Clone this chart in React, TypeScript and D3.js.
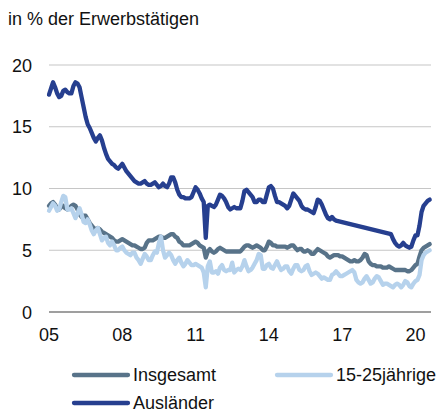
import React from "react";
import * as d3 from "d3";

// monthly values, Jan 2005 .. Aug 2020 (in % der Erwerbstätigen)
const startYear = 2005;
const yearTicks = [2005, 2008, 2011, 2014, 2017, 2020];
const yTicks = [0, 5, 10, 15, 20];

const insgesamt = [
  8.6, 8.8, 8.9, 8.7, 8.4, 8.3, 8.5, 8.6, 8.4, 8.3, 8.4, 8.6,
  8.7, 8.6, 8.3, 7.9, 7.7, 7.8, 7.8, 7.5, 7.2, 7.0, 6.8, 6.7,
  6.8, 6.7, 6.5, 6.4, 6.3, 6.2, 6.1, 6.0, 5.8, 5.7, 5.7, 5.8,
  5.9, 5.8, 5.7, 5.6, 5.5, 5.4, 5.4, 5.3, 5.2, 5.1, 5.1, 5.2,
  5.6, 5.8, 5.8, 5.8, 5.9, 6.0, 6.1, 6.1, 6.0, 6.0, 6.1, 6.2,
  6.3, 6.3, 6.1, 6.0, 5.7, 5.6, 5.4, 5.4, 5.4, 5.4, 5.5, 5.6,
  5.7, 5.6, 5.4, 5.3, 5.2, 4.4, 4.9, 5.1, 4.9, 4.8, 4.9, 5.1,
  5.2, 5.1, 5.0, 4.9, 4.9, 4.9, 4.9, 4.9, 4.9, 4.9, 4.9, 5.1,
  5.3, 5.4, 5.4, 5.3, 5.2, 5.3, 5.4, 5.3, 5.2, 5.0, 5.0, 5.3,
  5.7, 5.6, 5.4, 5.4, 5.3, 5.3, 5.3, 5.3, 5.3, 5.2, 5.3, 5.4,
  5.4, 5.2, 5.0, 5.1, 5.1, 4.9, 4.9, 5.0, 4.9, 4.7, 4.7, 4.9,
  5.1, 5.0, 4.9, 4.8, 4.7, 4.5, 4.4, 4.5, 4.6, 4.6, 4.6, 4.5,
  4.5, 4.4, 4.3, 4.2, 4.1, 4.1, 4.2, 4.1, 4.1, 4.2, 4.4, 4.7,
  4.6, 4.1, 3.9, 3.8, 3.8, 3.7, 3.7, 3.7, 3.6, 3.6, 3.6, 3.7,
  3.6, 3.5, 3.4, 3.4, 3.4, 3.4, 3.4, 3.4, 3.3, 3.3, 3.4, 3.6,
  3.8, 3.9, 4.5, 5.0, 5.2, 5.3, 5.4, 5.5,
];

const jugend = [
  8.2, 8.5, 8.8, 8.6, 8.2, 8.3, 8.9, 9.4, 9.3, 8.3, 8.3, 8.4,
  8.0, 7.6, 8.0, 8.4, 7.9, 7.3, 7.2, 7.5, 7.1, 6.6, 6.3, 6.6,
  6.8, 6.3, 5.8, 6.0, 6.1, 5.6, 5.4, 5.7, 5.4, 5.0, 5.0, 5.2,
  5.3, 5.0, 4.8, 4.7, 4.6, 4.8, 4.8, 4.4, 4.2, 3.9, 4.3, 4.7,
  4.5, 4.2, 4.2, 4.6, 4.9, 4.8, 5.6, 6.1, 5.0, 4.4, 4.6, 4.8,
  4.6, 4.2, 3.9, 4.2, 4.4, 4.0, 3.7, 3.9, 4.2, 4.0, 3.8, 3.8,
  3.9, 3.8, 3.7, 3.6, 3.2, 2.0, 3.7, 4.1, 3.2, 3.2, 3.3, 3.1,
  3.6, 3.8, 3.4, 3.3, 3.4, 3.4, 4.0, 3.2, 3.4, 3.5, 3.4, 3.7,
  4.2, 3.7, 3.3, 3.4, 3.6, 3.9, 4.2, 4.7, 4.6, 3.5, 3.5, 3.8,
  3.9, 3.6, 3.5, 3.8, 4.1, 3.7, 3.4, 3.5, 3.7, 3.7, 3.3, 3.1,
  3.5, 3.8, 3.8, 3.4, 3.3, 3.4, 3.7, 3.8, 3.3, 3.0, 3.1, 3.2,
  3.1, 2.9, 2.7, 2.8, 2.7, 2.6, 2.6, 3.0, 3.1, 3.3, 3.1, 2.9,
  2.9, 3.0, 3.1, 3.2, 3.3, 3.4, 3.2, 2.6, 2.4, 2.3, 2.4, 2.7,
  2.9, 2.6, 2.3, 2.4, 2.7, 2.9, 2.8, 2.5, 2.2, 2.3, 2.3, 2.2,
  2.1, 2.0, 2.2, 2.3, 2.2, 2.0, 2.2, 2.5, 2.4, 2.1, 2.0, 2.3,
  2.5, 2.6, 3.0, 4.2, 4.6, 4.8, 4.9, 5.0,
];

// null = no value for that month
const auslaender: (number | null)[] = [
  17.6, 18.1, 18.6, 18.2, 17.7, 17.4, 17.5, 17.9, 18.0, 17.8, 17.7, 17.7,
  18.3, 18.6, 18.5, 18.2, 17.4, 16.6, 15.8, 15.2, 14.9, 14.5, 14.1, 13.8,
  14.1, 14.3, 13.9, 13.3, 12.8, 12.4, 12.2, 12.0, 11.9, 11.7, 11.6, 11.8,
  12.0, 11.7, 11.4, 11.2, 11.0, 10.8, 10.6, 10.5, 10.4, 10.4, 10.5, 10.6,
  10.4, 10.3, 10.3, 10.4, 10.5, 10.3, 10.1, 10.2, 10.4, 10.2, 10.1, 10.4,
  10.9, 10.9, 10.5, 9.9, 9.5, 9.3, 9.3, 9.2, 9.2, 9.2, 9.3, 9.7,
  10.1, 9.9, 9.6, 9.2, 8.9, 6.0, 8.6, 8.7, 8.6, 8.5, 8.7, 9.1,
  9.5, 9.4, 9.2, 8.9, 8.5, 8.3, 8.4, 8.5, 8.4, 8.4, 8.4, 9.0,
  9.8, 9.9, 9.7, 9.5, 9.3, 8.9, 8.9, 9.1, 9.1, 8.9, 8.9, 9.5,
  10.1, 10.2, 10.0, 9.4, 8.9, 8.9, 8.8, 8.7, 8.6, 8.4, 8.6, 9.1,
  9.6, 9.4, 9.2, 9.0, 8.6, 8.4, 8.3, 8.3, 8.2, 8.1, 8.0, 8.5,
  9.1, 9.0, 8.7, 8.3, 7.9, 7.6, 7.5, 7.7, 7.5, 7.4, null, null,
  null, null, null, null, null, null, null, null, null, null, null, null,
  null, null, null, null, null, null, null, null, null, null, null, null,
  6.3, 5.9, 5.6, 5.4, 5.3, 5.4, 5.6, 5.4, 5.3, 5.2, 5.3, 5.8,
  6.2, 6.2, 7.0, 8.1, 8.6, 8.8, 9.0, 9.1,
];

const series = [
  { name: "Insgesamt", values: insgesamt, color: "#587389" },
  { name: "15-25jährige", values: jugend, color: "#b6d2ec" },
  { name: "Ausländer", values: auslaender, color: "#263f8f" },
];

const font = "Arial, 'Liberation Sans', sans-serif";

export default function App() {
  const width = 440;
  const height = 412;
  const margin = { left: 49, right: 9, top: 65, bottom: 100 };

  const n = insgesamt.length;
  const x = d3.scaleLinear().domain([0, n - 1]).range([margin.left, 429.7]);
  const y = d3.scaleLinear().domain([0, 20]).range([height - margin.bottom, margin.top]);

  const line = d3
    .line<[number, number]>()
    .x((d) => x(d[0]))
    .y((d) => y(d[1]));

  const pts = (vals: (number | null)[]) =>
    vals
      .map((v, i) => [i, v] as [number, number | null])
      .filter((d) => d[1] != null) as [number, number][];

  const gridRight = 431;

  return (
    <svg
      width={width}
      height={height}
      style={{ position: "absolute", left: 0, top: 0, background: "#fff" }}
      fontFamily={font}
    >
      <text x={8} y={25} fontSize={18} fill="#111">
        in % der Erwerbstätigen
      </text>

      {yTicks.map((t) => (
        <g key={t}>
          <line
            x1={margin.left}
            x2={gridRight}
            y1={y(t)}
            y2={y(t)}
            stroke={t === 0 ? "#7f7f7f" : "#c6c6c6"}
            strokeWidth={t === 0 ? 1.3 : 1.2}
          />
          <text x={32} y={y(t) + 6.5} fontSize={18} textAnchor="end" fill="#111">
            {t}
          </text>
        </g>
      ))}

      {yearTicks.map((yr) => (
        <text
          key={yr}
          x={x((yr - startYear) * 12)}
          y={341}
          fontSize={18}
          textAnchor="middle"
          fill="#111"
        >
          {String(yr).slice(2)}
        </text>
      ))}

      {series.map((s) => (
        <path
          key={s.name}
          d={line(pts(s.values)) || ""}
          fill="none"
          stroke={s.color}
          strokeWidth={4.3}
          strokeLinejoin="round"
          strokeLinecap="round"
        />
      ))}

      {series.map((s, i) => {
        const lx = i === 1 ? 277 : 74;
        const ly = i === 2 ? 403 : 375;
        return (
          <g key={s.name}>
            <line x1={lx} x2={lx + 54} y1={ly} y2={ly} stroke={s.color} strokeWidth={4.3} strokeLinecap="round" />
            <text x={lx + 59} y={ly + 5.5} fontSize={18} fill="#111">
              {s.name}
            </text>
          </g>
        );
      })}
    </svg>
  );
}
